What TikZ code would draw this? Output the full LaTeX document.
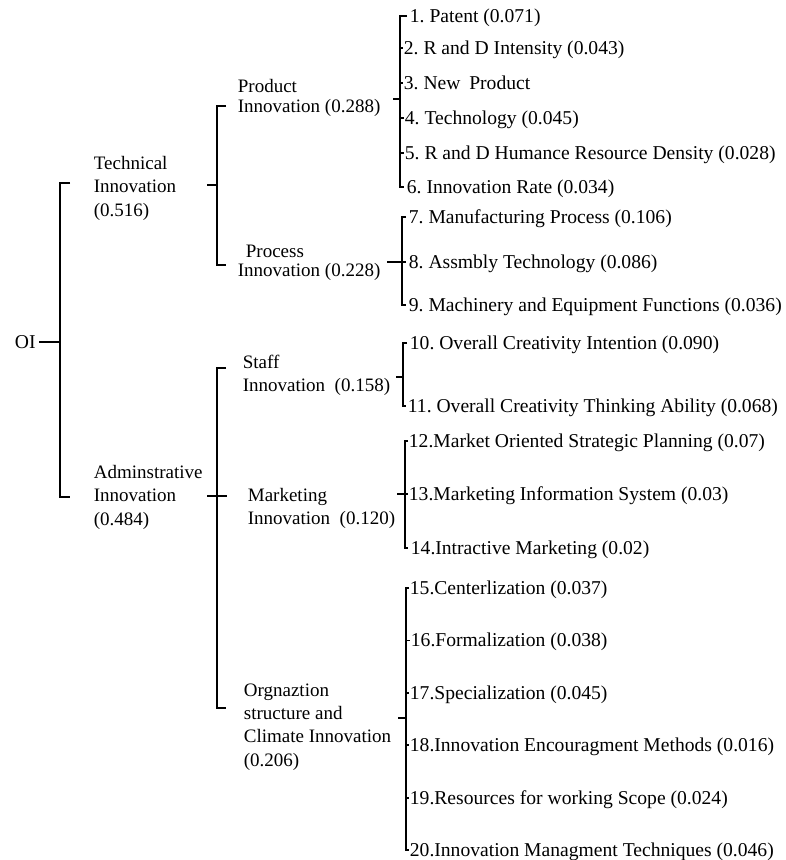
\documentclass[tikz,border=0pt]{standalone}
\usepackage{fontspec}
\setmainfont{Liberation Serif}
\begin{document}
\frenchspacing
\begin{tikzpicture}[x=1pt,y=-1pt,line width=1.8pt,
  lbl/.style={anchor=west,inner sep=0pt,align=left,font=\fontsize{19}{23.5}\selectfont},
  itm/.style={anchor=west,inner sep=0pt,font=\fontsize{19.6}{22}\selectfont,text height=13pt,text depth=0pt}]
\useasboundingbox (0,0) rectangle (786,860);
% root
\node[itm] (OI) at (14,342) {OI};
\coordinate (oiB) at (60,0);
% level 1
\node[lbl] (TI) at (93,188) {Technical\\Innovation\\(0.516)};
\node[lbl] (AI) at (93,497) {Adminstrative\\Innovation\\(0.484)};
\coordinate (oiTop) at (70,183);
\coordinate (oiBot) at (70,497);
\draw (OI.east) ++(3,0) -- (OI.east -| oiB);
\draw (oiTop) -- (oiTop -| oiB) -- (oiBot -| oiB) -- (oiBot);
% level 2
\coordinate (tB) at (217,0);
\coordinate (tiTick) at (207,185);
\draw (tiTick) -- (tiTick -| tB);
\node[lbl,font=\fontsize{19}{20}\selectfont] (PI) at (237,98) {Product\\Innovation (0.288)};
\node[lbl,font=\fontsize{19}{19}\selectfont] (PrI) at (237,263) {\hspace{8pt}Process\\Innovation (0.228)};
\coordinate (piT) at (226,106);
\coordinate (priT) at (226,265);
\draw (piT) -- (piT -| tB) -- (priT -| tB) -- (priT);
\coordinate (aB) at (217,0);
\coordinate (aiTick) at (207,496);
\coordinate (mkTick) at (227,496);
\draw (aiTick) -- (mkTick);
\node[lbl,font=\fontsize{19}{23}\selectfont] (SI) at (242,375) {Staff\\Innovation\ \ (0.158)};
\node[lbl,font=\fontsize{19}{23}\selectfont] (MI) at (247,508) {Marketing\\Innovation\ \ (0.120)};
\node[lbl,font=\fontsize{19}{23.3}\selectfont] (OC) at (243,727) {Orgnaztion\\structure and\\Climate Innovation\\(0.206)};
\coordinate (siT) at (226,368);
\coordinate (ocT) at (226,708);
\draw (siT) -- (siT -| aB) -- (ocT -| aB) -- (ocT);
% ---- Product items
\coordinate (bP) at (400,0);
\node[itm] (i1) at (409,16) {1. Patent (0.071)};
\node[itm] (i2) at (403,48) {2. R and D Intensity (0.043)};
\node[itm] (i3) at (403,83) {3. New\hspace{0.45em}Product};
\node[itm] (i4) at (404,118) {4. Technology (0.045)};
\node[itm] (i5) at (404,153) {5. R and D Humance Resource Density (0.028)};
\node[itm] (i6) at (406,187) {6. Innovation Rate (0.034)};
\draw (i1.west) ++(-2,0) -- (i1.west -| bP) -- (i6.west -| bP) -- ++(4,0);
\foreach \n in {i2,i3,i4,i5} \draw (\n.west -| bP) -- (\n.west);
\coordinate (pTk) at (393,99);
\draw (pTk) -- (pTk -| bP);
% ---- Process items
\coordinate (bR) at (402,0);
\node[itm] (i7) at (408,217) {7. Manufacturing Process (0.106)};
\node[itm] (i8) at (408,262) {8. Assmbly Technology (0.086)};
\node[itm] (i9) at (408,305) {9. Machinery and Equipment Functions (0.036)};
\draw (i7.west) ++(-2,0) -- (i7.west -| bR) -- (i9.west -| bR) -- ++(4,0);
\draw (i8.west -| bR) -- ++(4,0);
\coordinate (rTk) at (387,262);
\draw (rTk) -- (rTk -| bR);
% ---- Staff items
\coordinate (bS) at (403,0);
\node[itm] (i10) at (409,343) {10. Overall Creativity Intention (0.090)};
\node[itm] (i11) at (407,406) {11. Overall Creativity Thinking Ability (0.068)};
\draw (i10.west) ++(-2,0) -- (i10.west -| bS) -- (i11.west -| bS) -- ++(3,0);
\coordinate (sTk) at (396,377);
\draw (sTk) -- (sTk -| bS);
% ---- Marketing items
\coordinate (bM) at (405,0);
\node[itm] (i12) at (408,441) {12.Market Oriented Strategic Planning (0.07)};
\node[itm] (i13) at (408,494) {13.Marketing Information System (0.03)};
\node[itm] (i14) at (410,548) {14.Intractive Marketing (0.02)};
\draw (i12.west) -- (i12.west -| bM) -- (i14.west -| bM) -- ++(3,0);
\draw (i13.west -| bM) -- (i13.west);
\coordinate (mTk) at (397,494);
\draw (mTk) -- (mTk -| bM);
% ---- Organization items
\coordinate (bO) at (406,0);
\node[itm] (i15) at (409,588) {15.Centerlization (0.037)};
\node[itm] (i16) at (410,640.4) {16.Formalization (0.038)};
\node[itm] (i17) at (409,692.8) {17.Specialization (0.045)};
\node[itm] (i18) at (409,745.2) {18.Innovation Encouragment Methods (0.016)};
\node[itm] (i19) at (409,797.6) {19.Resources for working Scope (0.024)};
\node[itm] (i20) at (409,850) {20.Innovation Managment Techniques (0.046)};
\draw (i15.west) -- (i15.west -| bO) -- (i20.west -| bO) -- (i20.west);
\foreach \n in {i16,i17,i18,i19} \draw (\n.west -| bO) -- (\n.west);
\coordinate (oTk) at (398,718);
\draw (oTk) -- (oTk -| bO);
\end{tikzpicture}
\end{document}
